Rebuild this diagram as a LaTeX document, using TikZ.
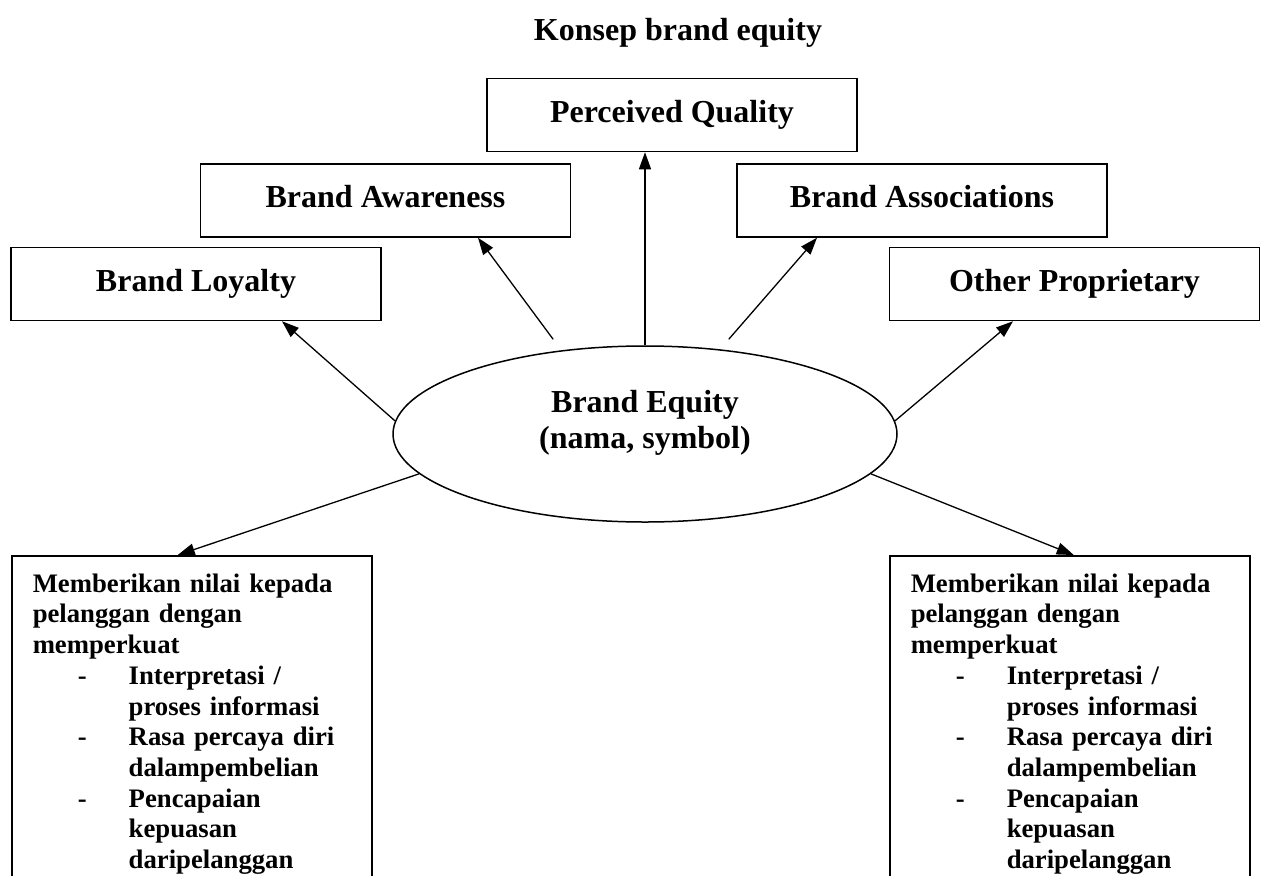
\documentclass[tikz,border=0pt]{standalone}
\usepackage{fontspec}
\setmainfont{Liberation Serif}
\usetikzlibrary{arrows.meta,shapes.geometric}

% butir daftar di kotak keterangan
\newcommand{\butir}{\makebox[96pt][l]{\hspace*{45pt}-}}
\newcommand{\sambung}{\hspace*{96pt}}

\tikzset{
  % --- kotak dimensi merek ---
  kotak/.style={draw, line width=1.5pt, minimum width=370pt, minimum height=73pt,
                inner sep=0pt, text height=22pt, text depth=8pt},
  % --- elips pusat ---
  inti/.style={ellipse, draw, line width=1.5pt, minimum width=504pt,
               minimum height=176pt, inner sep=0pt, align=center,
               text height=58.8pt, text depth=29.2pt},
  % --- kotak keterangan bawah (terpotong di tepi bawah) ---
  keterangan/.style={draw, line width=1.5pt, anchor=north west, align=left,
                     text width=318pt, inner xsep=21pt, inner ysep=18pt,
                     font=\fontsize{26.7}{30.7}\selectfont\bfseries},
  panah/.style={line width=1.3pt, -{Triangle[length=17pt,width=12pt]}},
}

\begin{document}
\begin{tikzpicture}[x=1pt, y=-1pt, font=\fontsize{32}{36.8}\selectfont\bfseries]
  \path[use as bounding box, fill=white] (0,0) rectangle (1262,876);
  \clip (0,0) rectangle (1262,876);

  \node[anchor=base] (judul) at (678,40) {Konsep brand equity};

  % --- lima dimensi ---
  \node[kotak] (kualitas)   at (672,115)   {Perceived Quality};
  \node[kotak] (kesadaran)  at (385.5,200.5) {Brand Awareness};
  \node[kotak] (asosiasi)   at (922,200.5) {Brand Associations};
  \node[kotak] (loyalitas)  at (196,284)   {Brand Loyalty};
  \node[kotak] (lainnya)    at (1074.5,284) {Other Proprietary};

  \node[inti] (ekuitas) at (645,434) {Brand Equity\\(nama, symbol)};

  % --- nilai bagi pelanggan ---
  \node[keterangan] (nilaikiri) at (11,555) {Memberikan nilai kepada\\
    pelanggan dengan\\
    memperkuat\\
    \butir Interpretasi /\\
    \sambung proses informasi\\
    \butir Rasa percaya diri\\
    \sambung dalampembelian\\
    \butir Pencapaian\\
    \sambung kepuasan\\
    \sambung daripelanggan};
  \node[keterangan] (nilaikanan) at (889,555) {Memberikan nilai kepada\\
    pelanggan dengan\\
    memperkuat\\
    \butir Interpretasi /\\
    \sambung proses informasi\\
    \butir Rasa percaya diri\\
    \sambung dalampembelian\\
    \butir Pencapaian\\
    \sambung kepuasan\\
    \sambung daripelanggan};

  % --- panah dari elips ---
  \draw[panah] (ekuitas.north) -- ([xshift=-27pt]kualitas.south);
  \draw[panah] ([yshift=12pt]ekuitas.138) -- ([xshift=92.5pt]kesadaran.south);
  \draw[panah] ([yshift=11pt]ekuitas.45) -- ([xshift=-105pt]asosiasi.south);
  \draw[panah] (ekuitas.177) -- ([xshift=86pt]loyalitas.south);
  \draw[panah] (ekuitas.3) -- ([xshift=-61.5pt]lainnya.south);
  \draw[panah] (ekuitas.190) -- ([xshift=-14pt]nilaikiri.north);
  \draw[panah] (ekuitas.350) -- ([xshift=4pt]nilaikanan.north);
\end{tikzpicture}
\end{document}
